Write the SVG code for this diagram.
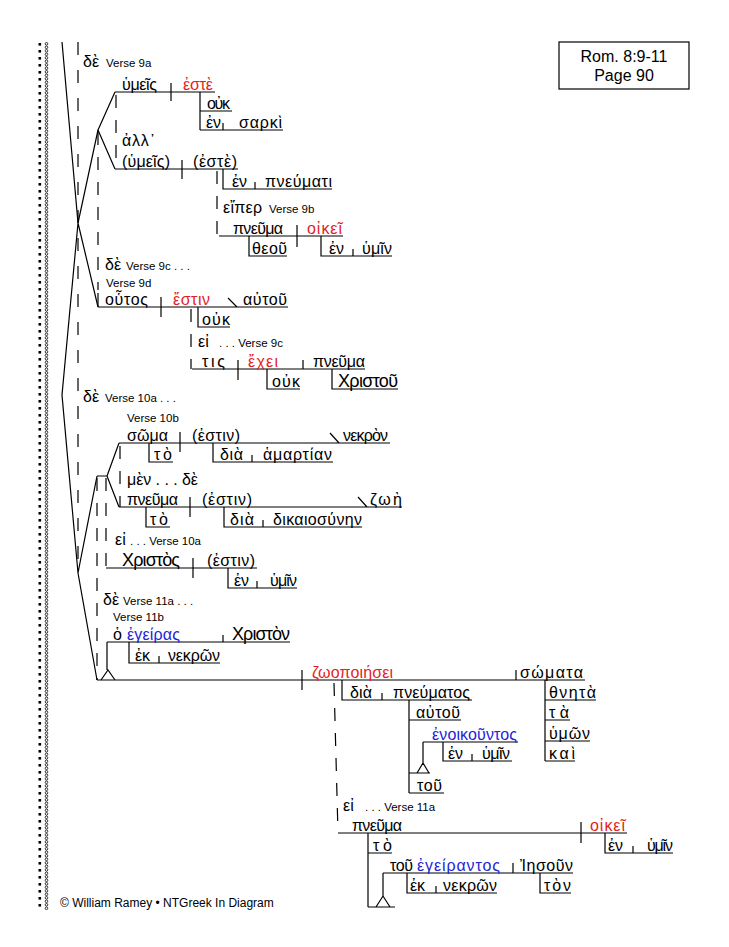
<svg xmlns="http://www.w3.org/2000/svg" width="729" height="947" viewBox="0 0 729 947">
<defs>
<pattern id="brd" x="37" y="42" width="12" height="7" patternUnits="userSpaceOnUse">
<rect x="1.5" y="1" width="2.6" height="2.6" fill="#000"/>
<circle cx="9.5" cy="1.8" r="1.3" fill="none" stroke="#000" stroke-width="0.8"/>
<circle cx="9.5" cy="5.3" r="1.3" fill="none" stroke="#000" stroke-width="0.8"/>
</pattern>
<style>
.g{font-family:"Liberation Sans","DejaVu Sans","Noto Sans",sans-serif;font-size:16px;fill:#000}
.c{font-size:18px}
.r{fill:#e31e24}
.b{fill:#2424d6}
.v{font-family:"Liberation Sans",Arial,sans-serif;font-size:11.5px;fill:#000}
.t{font-family:"Liberation Sans",Arial,sans-serif;fill:#000}
.l{stroke:#000;stroke-width:1.2;fill:none}
.d{stroke:#000;stroke-width:1.2;fill:none;stroke-dasharray:13 12}
</style>
</defs>
<rect width="729" height="947" fill="#fff"/>
<rect x="37" y="42" width="12" height="868" fill="url(#brd)"/>

<g id="title">
<rect x="559" y="42" width="130" height="47" fill="none" stroke="#000" stroke-width="1.2"/>
<text class="t" x="624" y="62" font-size="16" text-anchor="middle">Rom. 8:9-11</text>
<text class="t" x="624" y="81" font-size="16" text-anchor="middle">Page 90</text>
</g>

<g id="connectors">
<path class="l" d="M62,42 L78,223 M98,130 L78,223 L98,307 M78,223 L62,395 L78,573 L97,680 M97,476 L78,573"/>
<path class="l" d="M115,92 L98,130 L115,169"/>
<path class="d" d="M78,42 V573" style="stroke-dasharray:13 15"/>
<path class="d" d="M98,132 V290"/>
<path class="l" d="M98,293 V307"/>
<path class="d" d="M116,95 V169"/>
<path class="d" d="M217,171 V236"/>
<path class="d" d="M191,309 V369"/>
<path class="d" d="M120,446 V507"/>
<path class="l" d="M97,476 H107 M107,476 L119,443 M107,476 L119,507"/>
<path class="d" d="M97,478 V680"/>
<path class="d" d="M106,478 V568"/>
<path class="d" d="M334,683 L338,833"/>
</g>

<g id="label-9a">
<text class="g" x="83" y="67">δὲ</text>
<text class="v" x="106" y="67">Verse 9a</text>
</g>

<g id="clause-9a-1">
<path class="l" d="M115,92 H215 M171,83 V101 M200,92 V130 M200,111 H232 M200,130 H283 M223,123 V130"/>
<text class="g" x="122" y="90" textLength="35" lengthAdjust="spacing">ὑμεῖς</text>
<text class="g r" x="183" y="90" textLength="30" lengthAdjust="spacing">ἐστὲ</text>
<text class="g" x="207" y="109" textLength="23" lengthAdjust="spacing">οὐκ</text>
<text class="g" x="206" y="128" textLength="15" lengthAdjust="spacing">ἐν</text>
<text class="g" x="239" y="128" textLength="43" lengthAdjust="spacing">σαρκὶ</text>
</g>

<g id="conj-alla">
<text class="g" x="122" y="146" textLength="33" lengthAdjust="spacing">ἀλλ᾽</text>
</g>

<g id="clause-9a-2">
<path class="l" d="M115,169 H238 M182,160 V179 M223,169 V189 H332 M255,182 V189"/>
<text class="g" x="122" y="167" textLength="48" lengthAdjust="spacing">(ὑμεῖς)</text>
<text class="g" x="193" y="167" textLength="44" lengthAdjust="spacing">(ἐστὲ)</text>
<text class="g" x="232" y="187" textLength="15" lengthAdjust="spacing">ἐν</text>
<text class="g" x="265" y="187" textLength="67" lengthAdjust="spacing">πνεύματι</text>
</g>

<g id="label-9b">
<text class="g" x="223" y="213" textLength="39" lengthAdjust="spacing">εἴπερ</text>
<text class="v" x="269" y="213">Verse 9b</text>
</g>

<g id="clause-9b">
<path class="l" d="M219,236 H343 M297,225 V247 M249,236 V256 H287 M321,236 V256 H392 M353,249 V256"/>
<text class="g" x="233" y="234" textLength="50" lengthAdjust="spacing">πνεῦμα</text>
<text class="g r" x="307" y="234" textLength="35" lengthAdjust="spacing">οἰκεῖ</text>
<text class="g" x="252" y="254" textLength="35" lengthAdjust="spacing">θεοῦ</text>
<text class="g" x="329" y="254" textLength="15" lengthAdjust="spacing">ἐν</text>
<text class="g" x="362" y="254" textLength="30" lengthAdjust="spacing">ὑμῖν</text>
</g>

<g id="label-9c-9d">
<text class="g" x="105" y="270">δὲ</text>
<text class="v" x="126" y="270">Verse 9c . . .</text>
<text class="v" x="106" y="287">Verse 9d</text>
</g>

<g id="clause-9d">
<path class="l" d="M98,307 H288 M161,297 V317 M228,298 L237,307 M198,307 V327 H230"/>
<text class="g" x="105" y="305" textLength="43" lengthAdjust="spacing">οὗτος</text>
<text class="g r" x="173" y="305" textLength="37" lengthAdjust="spacing">ἔστιν</text>
<text class="g" x="243" y="305" textLength="44" lengthAdjust="spacing">αὐτοῦ</text>
<text class="g" x="202" y="325" textLength="28" lengthAdjust="spacing">οὐκ</text>
</g>

<g id="label-9c">
<text class="g" x="198" y="347">εἰ</text>
<text class="v" x="219" y="347">. . . Verse 9c</text>
</g>

<g id="clause-9c">
<path class="l" d="M192,369 H365 M238,360 V380 M303,360 V369 M267,369 V389 H300 M332,369 V389 H398"/>
<text class="g" x="202" y="367" textLength="23" lengthAdjust="spacing">τις</text>
<text class="g r" x="248" y="367" textLength="30" lengthAdjust="spacing">ἔχει</text>
<text class="g" x="313" y="367" textLength="52" lengthAdjust="spacing">πνεῦμα</text>
<text class="g" x="272" y="387" textLength="28" lengthAdjust="spacing">οὐκ</text>
<text class="g c" x="338" y="387" textLength="60" lengthAdjust="spacing">Χριστοῦ</text>
</g>

<g id="label-10a-10b">
<text class="g" x="83" y="402">δὲ</text>
<text class="v" x="105" y="402">Verse 10a . . .</text>
<text class="v" x="127" y="422">Verse 10b</text>
</g>

<g id="clause-10b-1">
<path class="l" d="M119,443 H390 M180,432 V452 M330,433 L339,443 M149,443 V462 H173 M213,443 V462 H333 M252,455 V462"/>
<text class="g" x="127" y="441" textLength="41" lengthAdjust="spacing">σῶμα</text>
<text class="g" x="192" y="441" textLength="48" lengthAdjust="spacing">(ἐστιν)</text>
<text class="g" x="343" y="441" textLength="45" lengthAdjust="spacing">νεκρὸν</text>
<text class="g" x="154" y="460" textLength="18" lengthAdjust="spacing">τὸ</text>
<text class="g" x="220" y="460" textLength="23" lengthAdjust="spacing">διὰ</text>
<text class="g" x="263" y="460" textLength="69" lengthAdjust="spacing">ἁμαρτίαν</text>
</g>

<g id="conj-men-de">
<text class="g" x="127" y="485" textLength="71" lengthAdjust="spacing">μὲν . . . δὲ</text>
</g>

<g id="clause-10b-2">
<path class="l" d="M119,507 H402 M190,497 V517 M358,497 L367,507 M146,507 V527 H170 M224,507 V527 H362 M263,520 V527"/>
<text class="g" x="127" y="505" textLength="51" lengthAdjust="spacing">πνεῦμα</text>
<text class="g" x="202" y="505" textLength="50" lengthAdjust="spacing">(ἐστιν)</text>
<text class="g" x="370" y="505" textLength="32" lengthAdjust="spacing">ζωὴ</text>
<text class="g" x="150" y="525" textLength="18" lengthAdjust="spacing">τὸ</text>
<text class="g" x="230" y="525" textLength="24" lengthAdjust="spacing">διὰ</text>
<text class="g" x="273" y="525" textLength="89" lengthAdjust="spacing">δικαιοσύνην</text>
</g>

<g id="label-10a">
<text class="g" x="115" y="545">εἰ</text>
<text class="v" x="130" y="545">. . . Verse 10a</text>
</g>

<g id="clause-10a">
<path class="l" d="M106,568 H257 M193,558 V578 M228,568 V588 H297 M257,581 V588"/>
<text class="g c" x="122" y="566" textLength="58" lengthAdjust="spacing">Χριστὸς</text>
<text class="g" x="207" y="566" textLength="48" lengthAdjust="spacing">(ἐστιν)</text>
<text class="g" x="234" y="586" textLength="15" lengthAdjust="spacing">ἐν</text>
<text class="g" x="270" y="586" textLength="27" lengthAdjust="spacing">ὑμῖν</text>
</g>

<g id="label-11a-11b">
<text class="g" x="103" y="605">δὲ</text>
<text class="v" x="123" y="605">Verse 11a . . .</text>
<text class="v" x="113" y="621">Verse 11b</text>
</g>

<g id="subject-11b">
<path class="l" d="M107,642 H290 M223,635 V642 M129,642 V663 H220 M159,656 V663 M107,642 V670 M101,680 L108,670 L115,680"/>
<text class="g" x="113" y="640">ὁ</text>
<text class="g b" x="127" y="640" textLength="53" lengthAdjust="spacing">ἐγείρας</text>
<text class="g c" x="232" y="640" textLength="58" lengthAdjust="spacing">Χριστὸν</text>
<text class="g" x="135" y="661" textLength="15" lengthAdjust="spacing">ἐκ</text>
<text class="g" x="168" y="661" textLength="52" lengthAdjust="spacing">νεκρῶν</text>
</g>

<g id="clause-11b">
<path class="l" d="M97,680 H585 M302,670 V690 M516,670 V680 M342,680 V700 H472 M382,693 V700 M409,700 V793 M409,720 H461 M409,793 H444 M409,773 H430 M417,773 L423,763 L429,773 M423,742 V763 M423,742 H518 M443,742 V761 H512 M472,754 V761 M545,680 V761 M545,700 H596 M545,720 H570 M545,741 H590 M545,761 H575"/>
<text class="g r" x="312" y="678" textLength="81" lengthAdjust="spacing">ζωοποιήσει</text>
<text class="g" x="520" y="678" textLength="63" lengthAdjust="spacing">σώματα</text>
<text class="g" x="350" y="698" textLength="22" lengthAdjust="spacing">διὰ</text>
<text class="g" x="393" y="698" textLength="77" lengthAdjust="spacing">πνεύματος</text>
<text class="g" x="416" y="718" textLength="44" lengthAdjust="spacing">αὐτοῦ</text>
<text class="g b" x="432" y="740" textLength="85" lengthAdjust="spacing">ἐνοικοῦντος</text>
<text class="g" x="448" y="759" textLength="15" lengthAdjust="spacing">ἐν</text>
<text class="g" x="482" y="759" textLength="28" lengthAdjust="spacing">ὑμῖν</text>
<text class="g" x="417" y="791" textLength="25" lengthAdjust="spacing">τοῦ</text>
<text class="g" x="549" y="698" textLength="47" lengthAdjust="spacing">θνητὰ</text>
<text class="g" x="549" y="718" textLength="20" lengthAdjust="spacing">τὰ</text>
<text class="g" x="549" y="739" textLength="41" lengthAdjust="spacing">ὑμῶν</text>
<text class="g" x="549" y="759" textLength="26" lengthAdjust="spacing">καὶ</text>
</g>

<g id="label-11a">
<text class="g" x="343" y="811">εἰ</text>
<text class="v" x="365" y="811">. . . Verse 11a</text>
</g>

<g id="clause-11a">
<path class="l" d="M338,833 H627 M581,822 V843 M605,833 V853 H673 M633,846 V853 M368,833 V907 M368,853 H392 M368,907 H395 M376,907 L383,896 L390,907 M383,873 V896 M383,873 H573 M513,863 V873 M407,873 V893 H497 M436,886 V893 M540,873 V893 H571"/>
<text class="g" x="352" y="831" textLength="50" lengthAdjust="spacing">πνεῦμα</text>
<text class="g r" x="590" y="831" textLength="35" lengthAdjust="spacing">οἰκεῖ</text>
<text class="g" x="608" y="851" textLength="15" lengthAdjust="spacing">ἐν</text>
<text class="g" x="647" y="851" textLength="26" lengthAdjust="spacing">ὑμῖν</text>
<text class="g" x="373" y="851" textLength="19" lengthAdjust="spacing">τὸ</text>
<text class="g" x="390" y="871" textLength="23" lengthAdjust="spacing">τοῦ</text>
<text class="g b" x="417" y="871" textLength="83" lengthAdjust="spacing">ἐγείραντος</text>
<text class="g" x="520" y="871" textLength="53" lengthAdjust="spacing">Ἰησοῦν</text>
<text class="g" x="410" y="891" textLength="15" lengthAdjust="spacing">ἐκ</text>
<text class="g" x="443" y="891" textLength="54" lengthAdjust="spacing">νεκρῶν</text>
<text class="g" x="544" y="891" textLength="27" lengthAdjust="spacing">τὸν</text>
</g>

<g id="footer">
<text class="t" x="60" y="907" font-size="12">© William Ramey • NTGreek In Diagram</text>
</g>
</svg>
